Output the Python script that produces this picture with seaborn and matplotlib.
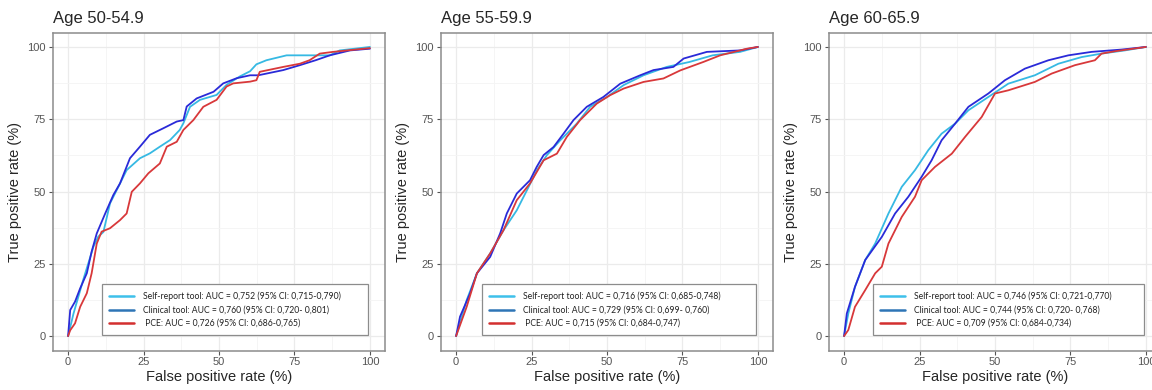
import pandas as pd
import matplotlib.pyplot as plt
import seaborn as sns
from matplotlib.lines import Line2D

# Style

sns.set_theme(style="whitegrid")
plt.rcParams["font.family"] = ["Liberation Sans", "DejaVu Sans"]

line_colors = {"Self-report tool": "#36B9E3", "Clinical tool": "#2A2AD8", "PCE": "#D8383A"}
legend_colors = {"Self-report tool": "#3EC0EA", "Clinical tool": "#2E75B6", "PCE": "#D32F2F"}
models = ["Self-report tool", "Clinical tool", "PCE"]

titles = ["Age 50-54.9", "Age 55-59.9", "Age 60-65.9"]

# Values (fpr %, tpr %)

# Age 50-54.9
p1_self_fpr = [0, 1.8, 5, 8.4, 10, 11.7, 13.9, 16.7, 19.4, 23.8, 27.1, 30.4, 33.8, 37, 38.2, 40.4, 43.7, 49.2, 52.5, 56.9, 60.3, 62.4, 65.7, 72.4, 86.7, 90, 100]
p1_self_tpr = [0, 7.8, 19.4, 30.9, 34.4, 36, 45.9, 51.7, 57.4, 61.5, 63.2, 65.5, 67.8, 71.3, 73.6, 79.3, 81.7, 83.4, 86.9, 89.8, 91.6, 94, 95.4, 97.1, 97.1, 98.8, 100]
p1_clin_fpr = [0, 0.7, 2.3, 4, 6.2, 7.8, 9.5, 12.3, 15, 17.2, 20.5, 23.8, 27.1, 31.6, 36, 38.2, 39.3, 42.6, 48.2, 51.4, 55.9, 60.3, 63, 71.3, 76.8, 82, 86.7, 93.4, 100]
p1_clin_tpr = [0, 9, 11.9, 16.5, 21.7, 29.2, 35.5, 42.4, 48.8, 52.8, 61.5, 65.5, 69.6, 71.9, 74.2, 74.7, 79.4, 82.2, 84.5, 87.4, 89.2, 90.2, 90.2, 92, 93.7, 95.4, 97.1, 98.8, 99.4]
p1_pce_fpr = [0, 0.7, 2.3, 4, 6.2, 7.8, 9.5, 11.1, 13.9, 17.2, 19.4, 21.1, 23.8, 26.6, 30.4, 32.7, 36, 38.2, 41.5, 44.8, 49.2, 52.5, 54.7, 60.3, 62.4, 63.5, 71.3, 76.8, 80, 83.4, 87.8, 100]
p1_pce_tpr = [0, 2, 4.4, 10.1, 14.8, 21.7, 32, 36.1, 37.3, 40.1, 42.4, 49.9, 52.8, 56.3, 59.7, 65.5, 67.2, 71.3, 74.7, 79.3, 81.7, 86.3, 87.4, 88, 88.5, 91.4, 93.1, 94.2, 95.4, 97.7, 98.3, 99.6]

# Age 55-59.9
p2_self_fpr = [0, 3.5, 6.9, 11.3, 15.7, 20.1, 23.5, 26.8, 30.1, 34.5, 40, 44.4, 50, 55.5, 62.1, 69.8, 77.3, 85, 94.1, 100]
p2_self_tpr = [0, 12.4, 21.7, 28.6, 36.6, 43.5, 50.5, 57.4, 62.6, 67.7, 73.5, 79.3, 82.7, 86.8, 90.2, 93.1, 94.8, 97.1, 98.3, 100]
p2_clin_fpr = [0, 1.3, 4.6, 6.9, 11.3, 14.6, 16.8, 20.1, 24.5, 26.7, 29, 32.3, 35.6, 38.9, 43.3, 48.8, 54.4, 61, 65.4, 72, 75.4, 83.1, 94.1, 100]
p2_clin_tpr = [0, 6.7, 14.7, 21.7, 27.4, 35.5, 42.4, 49.3, 53.9, 58.5, 62.6, 65.4, 70, 74.7, 79.3, 82.7, 87.3, 90.2, 92, 93.1, 96, 98.3, 98.8, 100]
p2_pce_fpr = [0, 3.5, 6.9, 11.3, 15.7, 20.1, 24.5, 29, 33.4, 36.7, 41.1, 46.6, 51, 55.5, 62.1, 68.7, 74.3, 81.9, 87.5, 96.4, 100]
p2_pce_tpr = [0, 10.1, 21.7, 28.6, 36.6, 47, 52.8, 60.8, 63.1, 68.9, 74.7, 80.4, 83.3, 85.6, 87.9, 89.1, 91.9, 94.8, 97.1, 99.4, 100]

# Age 60-65.9
p3_self_fpr = [0, 1.4, 3.6, 7, 10.3, 14.7, 19.1, 23.5, 27.9, 32.3, 36.8, 41.2, 47.8, 54.4, 63.2, 71, 78.7, 85.3, 93, 100]
p3_self_tpr = [0, 7.8, 17, 26.3, 32, 42.4, 51.6, 57.4, 64.3, 70, 73.5, 78.1, 82.7, 87.3, 90.2, 94.2, 96.5, 97.7, 98.8, 100]
p3_clin_fpr = [0, 0.9, 3.6, 7, 12.5, 16.9, 21.3, 25.7, 29, 32.3, 36.8, 41.2, 47.8, 53.3, 59.9, 67.7, 74.3, 82, 92, 100]
p3_clin_tpr = [0, 7.8, 17, 26.3, 34.3, 42.4, 48.2, 55.1, 60.8, 67.7, 73.5, 79.3, 83.9, 88.5, 92.5, 95.4, 97.1, 98.3, 99.1, 100]
p3_pce_fpr = [0, 1.4, 3.6, 7, 10.3, 12.5, 14.7, 19.1, 23.5, 25.7, 30.1, 35.7, 40.1, 45.6, 50, 54.4, 63.2, 68.8, 76.5, 83.1, 85.3, 89.7, 100]
p3_pce_tpr = [0, 2.1, 10.1, 15.9, 21.7, 24, 32, 41.2, 48.2, 53.9, 58.5, 63.1, 68.9, 75.8, 83.9, 85, 87.9, 90.8, 93.7, 95.4, 97.7, 98.5, 100]

legend_labels = [
    ["Self-report tool: AUC = 0,752 (95% CI: 0,715-0,790)",
     "Clinical tool: AUC = 0,760 (95% CI: 0,720- 0,801)",
     " PCE: AUC = 0,726 (95% CI: 0,686-0,765)"],
    ["Self-report tool: AUC = 0,716 (95% CI: 0,685-0,748)",
     "Clinical tool: AUC = 0,729 (95% CI: 0,699- 0,760)",
     " PCE: AUC = 0,715 (95% CI: 0,684-0,747)"],
    ["Self-report tool: AUC = 0,746 (95% CI: 0,721-0,770)",
     "Clinical tool: AUC = 0,744 (95% CI: 0,720- 0,768)",
     " PCE: AUC = 0,709 (95% CI: 0,684-0,734)"],
]

panels = [
    [(p1_self_fpr, p1_self_tpr), (p1_clin_fpr, p1_clin_tpr), (p1_pce_fpr, p1_pce_tpr)],
    [(p2_self_fpr, p2_self_tpr), (p2_clin_fpr, p2_clin_tpr), (p2_pce_fpr, p2_pce_tpr)],
    [(p3_self_fpr, p3_self_tpr), (p3_clin_fpr, p3_clin_tpr), (p3_pce_fpr, p3_pce_tpr)],
]

# legend box left edge (axes fraction) per panel
legend_x0 = [0.148, 0.124, 0.133]

# Figure

W, H = 1152, 390
fig = plt.figure(figsize=(W / 100, H / 100), dpi=100)

ax_lefts = [53, 441, 829]

for i in range(3):
    ax = fig.add_axes([ax_lefts[i] / W, 39.5 / H, 332 / W, 318 / H])

    for model, (fpr, tpr) in zip(models, panels[i]):
        curve = pd.DataFrame({"fpr": fpr, "tpr": tpr})
        sns.lineplot(data=curve, x="fpr", y="tpr", sort=False, estimator=None,
                     color=line_colors[model], linewidth=1.3, ax=ax, zorder=3)

    ax.set_xlim(-5, 105)
    ax.set_ylim(-5, 105)
    ticks = [0, 25, 50, 75, 100]
    ax.set_xticks(ticks)
    ax.set_yticks(ticks)
    ax.set_xticks([12.5, 37.5, 62.5, 87.5], minor=True)
    ax.set_yticks([12.5, 37.5, 62.5, 87.5], minor=True)
    ax.grid(which="major", color="#EBEBEB", linewidth=0.9)
    ax.grid(which="minor", color="#F4F4F4", linewidth=0.6)
    ax.set_facecolor("white")
    for s in ax.spines.values():
        s.set_color("#8C8C8C")
        s.set_linewidth(1.1)
    ax.tick_params(which="major", length=3, width=0.8, color="#555555",
                   labelsize=8, labelcolor="#555555", pad=2, bottom=True, left=True)
    ax.tick_params(which="minor", length=0)

    ax.set_xlabel("False positive rate (%)", fontsize=10.5, labelpad=2)
    ax.set_ylabel("True positive rate (%)", fontsize=10.5, labelpad=4)
    ax.set_title(titles[i], loc="left", fontsize=12, pad=7, x=0.0)

    handles = [Line2D([0], [0], color=legend_colors[m], linewidth=1.8) for m in models]
    leg = ax.legend(handles, legend_labels[i], loc="lower left",
                    bbox_to_anchor=(legend_x0[i], 0.048, 0.955 - legend_x0[i] - 0.005, 0.16),
                    mode="expand", fontsize=6.2, frameon=True, fancybox=False,
                    framealpha=1, edgecolor="#8C8C8C", handlelength=2.8,
                    handletextpad=1.1, labelspacing=0.5, borderpad=0.85, borderaxespad=0)
    leg.get_frame().set_linewidth(0.9)
    for t in leg.get_texts():
        t.set_family(["Lato", "DejaVu Sans"])
        t.set_color("#222222")

fig.savefig("out.png", dpi=100)
